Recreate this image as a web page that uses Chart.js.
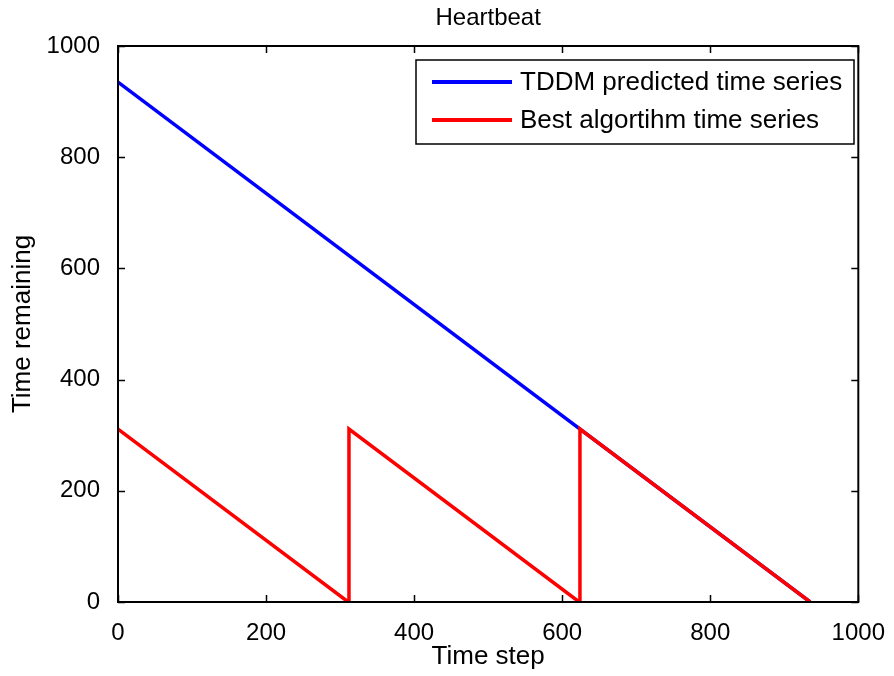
<!DOCTYPE html>
<html>
<head>
<meta charset="utf-8">
<script src="https://cdn.jsdelivr.net/npm/chart.js@4"></script>
<style>
  html, body { margin: 0; padding: 0; background: #fff; }
  #wrap { width: 894px; height: 676px; }
</style>
</head>
<body>
<div id="wrap"><canvas id="chart" width="894" height="676"></canvas></div>
<script>
// ===== DATA =====
const chartTitle = 'Heartbeat'
const xTitle = 'Time step'
const yTitle = 'Time remaining'
const xTicks = [0, 200, 400, 600, 800, 1000]
const yTicks = [0, 200, 400, 600, 800, 1000]

const tddmLabel = 'TDDM predicted time series'
const tddmX = [0, 935]
const tddmY = [935, 0]

const bestLabel = 'Best algortihm time series'
const bestX = [0, 311, 312, 623, 624, 935]
const bestY = [311, 0, 311, 0, 311, 0]

const FONT = '"Liberation Sans", Arial, sans-serif'

function toPoints(xs, ys) {
  return xs.map((x, i) => ({ x: x, y: ys[i] }))
}

// ===== PLUGIN: frame, inward ticks, title, legend =====
const matlabFrame = {
  id: 'matlabFrame',
  afterDatasetsDraw(chart) {
    const { ctx, chartArea: a, scales } = chart
    const tl = 7
    ctx.save()
    ctx.strokeStyle = '#000'
    ctx.lineWidth = 1.5
    // inward tick marks on all four sides
    ctx.beginPath()
    xTicks.forEach(v => {
      const px = Math.round(scales.x.getPixelForValue(v)) + 0.5
      ctx.moveTo(px, a.bottom); ctx.lineTo(px, a.bottom - tl)
      ctx.moveTo(px, a.top); ctx.lineTo(px, a.top + tl)
    })
    yTicks.forEach(v => {
      const py = Math.round(scales.y.getPixelForValue(v)) + 0.5
      ctx.moveTo(a.left, py); ctx.lineTo(a.left + tl, py)
      ctx.moveTo(a.right, py); ctx.lineTo(a.right - tl, py)
    })
    ctx.stroke()
    // box
    ctx.lineWidth = 2
    ctx.strokeRect(a.left, a.top, a.right - a.left, a.bottom - a.top)

    // title
    ctx.fillStyle = '#000'
    ctx.font = '24px ' + FONT
    ctx.textAlign = 'center'
    ctx.textBaseline = 'middle'
    ctx.fillText(chartTitle, (a.left + a.right) / 2, 18)

    // legend
    const items = [
      { label: tddmLabel, color: chart.data.datasets[0].borderColor },
      { label: bestLabel, color: chart.data.datasets[1].borderColor }
    ]
    const bx = 416, by = 60, bw = 438, bh = 84
    ctx.fillStyle = '#fff'
    ctx.fillRect(bx, by, bw, bh)
    ctx.lineWidth = 1.5
    ctx.strokeStyle = '#000'
    ctx.strokeRect(bx, by, bw, bh)
    ctx.font = '26px ' + FONT
    ctx.textAlign = 'left'
    items.forEach((it, i) => {
      const ly = 82 + i * 38
      ctx.strokeStyle = it.color
      ctx.lineWidth = 4
      ctx.beginPath()
      ctx.moveTo(432, ly); ctx.lineTo(512, ly)
      ctx.stroke()
      ctx.fillStyle = '#000'
      ctx.fillText(it.label, 520, ly + 1)
    })
    ctx.restore()
  }
}

new Chart(document.getElementById('chart'), {
  type: 'line',
  data: {
    datasets: [
      {
        label: tddmLabel,
        data: toPoints(tddmX, tddmY),
        borderColor: '#0000ff',
        borderWidth: 3.5,
        pointRadius: 0,
        tension: 0,
        order: 2
      },
      {
        label: bestLabel,
        data: toPoints(bestX, bestY),
        borderColor: '#ff0000',
        borderWidth: 3.5,
        pointRadius: 0,
        tension: 0,
        order: 1
      }
    ]
  },
  options: {
    responsive: false,
    animation: false,
    layout: { padding: { left: 0, right: 32, top: 46, bottom: 0 } },
    plugins: {
      legend: { display: false },
      title: { display: false },
      tooltip: { enabled: false }
    },
    scales: {
      x: {
        type: 'linear',
        min: 0,
        max: 1000,
        afterFit(scale) { scale.height = 74 },
        afterBuildTicks(scale) { scale.ticks = xTicks.map(v => ({ value: v })) },
        grid: { display: false },
        border: { display: false },
        ticks: {
          color: '#000',
          padding: 9,
          maxRotation: 0,
          font: { family: FONT, size: 24 },
          callback: v => String(v)
        },
        title: {
          display: true,
          text: xTitle,
          color: '#000',
          font: { family: FONT, size: 26 },
          padding: { top: 0, bottom: 4 }
        }
      },
      y: {
        type: 'linear',
        min: 0,
        max: 1000,
        afterFit(scale) { scale.width = 118 },
        afterBuildTicks(scale) { scale.ticks = yTicks.map(v => ({ value: v })) },
        grid: { display: false },
        border: { display: false },
        ticks: {
          color: '#000',
          padding: 10,
          font: { family: FONT, size: 24 },
          callback: v => String(v)
        },
        title: {
          display: true,
          text: yTitle,
          color: '#000',
          font: { family: FONT, size: 26 },
          padding: { top: 7, bottom: 0 }
        }
      }
    }
  },
  plugins: [matlabFrame]
})
</script>
</body>
</html>
